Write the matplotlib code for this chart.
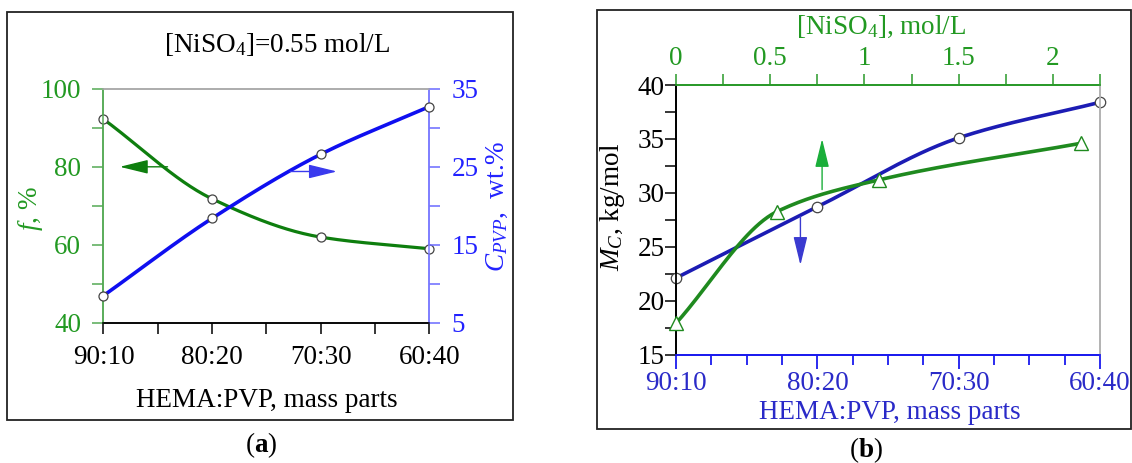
import numpy as np
import matplotlib
matplotlib.use("Agg")
import matplotlib.pyplot as plt
from matplotlib.patches import Rectangle
from matplotlib.ticker import MultipleLocator, FixedLocator

plt.rcParams['font.family'] = ['Liberation Serif', 'DejaVu Serif']
plt.rcParams['mathtext.fontset'] = 'custom'
plt.rcParams['mathtext.rm'] = 'Liberation Serif'
plt.rcParams['mathtext.it'] = 'Liberation Serif:italic'
plt.rcParams['mathtext.bf'] = 'Liberation Serif:bold'
plt.rcParams['font.size'] = 19.5

# --- data ---
ratios = ["90:10", "80:20", "70:30", "60:40"]          # HEMA:PVP, mass parts
f_yield = [92.2, 71.8, 62.0, 59.0]                       # f, %  (panel a)
c_pvp = [8.5, 18.4, 26.6, 32.7]                          # C_PVP, wt.% (panel a)
mc_ratio = [22.1, 28.7, 35.1, 38.4]                      # Mc vs HEMA:PVP (panel b)
niso4 = [0.0, 0.535, 1.077, 2.15]                        # [NiSO4], mol/L (panel b)
mc_niso4 = [17.9, 28.25, 31.2, 34.6]                     # Mc vs [NiSO4] (panel b)

# colours
GREEN_TXT = "#229922"
GREEN_LINE = "#0e7e0e"
GREEN_B = "#1f8a1f"
BLUE_A = "#0f0ff0"
BLUE_TXT_A = "#2222ff"
BLUE_B = "#1c1cb4"
BLUE_TXT_B = "#2a2ac8"


def smooth(x, y, n=200):
    # monotone cubic (hermite) line through the measured points
    x = np.asarray(x, float)
    y = np.asarray(y, float)
    h = np.diff(x)
    d = np.diff(y) / h
    m = np.zeros_like(y)
    for k in range(1, len(x) - 1):
        if d[k - 1] * d[k] > 0:
            w1 = 2 * h[k] + h[k - 1]
            w2 = h[k] + 2 * h[k - 1]
            m[k] = (w1 + w2) / (w1 / d[k - 1] + w2 / d[k])
    m[0] = d[0]
    m[-1] = d[-1]
    xs = np.linspace(x[0], x[-1], n)
    idx = np.clip(np.searchsorted(x, xs) - 1, 0, len(x) - 2)
    t = (xs - x[idx]) / h[idx]
    h00 = 2 * t**3 - 3 * t**2 + 1
    h10 = t**3 - 2 * t**2 + t
    h01 = -2 * t**3 + 3 * t**2
    h11 = t**3 - t**2
    ys = h00 * y[idx] + h10 * h[idx] * m[idx] + h01 * y[idx + 1] + h11 * h[idx] * m[idx + 1]
    return xs, ys


fig = plt.figure(figsize=(11.32, 4.63), dpi=100)

# panel frames
fig.add_artist(Rectangle((0.0062, 0.0929), 0.447, 0.8812, transform=fig.transFigure,
                         fill=False, lw=1.3, ec="#222222"))
fig.add_artist(Rectangle((0.5274, 0.0734), 0.4717, 0.905, transform=fig.transFigure,
                         fill=False, lw=1.3, ec="#222222"))

# ================= panel (a) =================
xa = np.arange(len(ratios))
ax = fig.add_axes([0.0914, 0.3024, 0.2878, 0.506])
ax2 = ax.twinx()

xs, ys = smooth(xa, f_yield)
ax.plot(xs, ys, color=GREEN_LINE, lw=2.3, zorder=3)
ax.plot(xa, f_yield, ls="none", marker="o", ms=6.5, mfc="white", mec="#444444", mew=0.9,
        zorder=4, clip_on=False)
xs, ys = smooth(xa, c_pvp)
ax2.plot(xs, ys, color=BLUE_A, lw=2.6, zorder=3)
ax2.plot(xa, c_pvp, ls="none", marker="o", ms=6.5, mfc="white", mec="#444444", mew=0.9,
         zorder=4, clip_on=False)

ax.set_xlim(0, 3)
ax.set_ylim(40, 100)
ax2.set_ylim(5, 35)
ax.set_xticks(xa)
ax.set_xticklabels(ratios)
ax.xaxis.set_minor_locator(MultipleLocator(0.5))
ax.yaxis.set_major_locator(MultipleLocator(20))
ax.yaxis.set_minor_locator(MultipleLocator(10))
ax2.yaxis.set_major_locator(FixedLocator([5, 15, 25, 35]))
ax2.yaxis.set_minor_locator(FixedLocator([10, 20, 30]))

ax.tick_params(axis="x", which="both", direction="out", length=8, width=1.1, color="black", pad=8)
ax.tick_params(axis="y", which="both", direction="out", length=8, width=1.1, color="#55aa55",
               labelcolor=GREEN_TXT, pad=8)
ax2.tick_params(axis="y", which="both", direction="out", length=8, width=1.1, color="#6a6aff",
                labelcolor=BLUE_TXT_A, pad=8)
for a in (ax, ax2):
    a.spines["left"].set_color("#55aa55")
    a.spines["right"].set_color("#7a7aff")
    a.spines["top"].set_color("#aaaaaa")
    a.spines["bottom"].set_color("black")
    for s in a.spines.values():
        s.set_linewidth(1.1)

ax.annotate("", xy=(0.15, 80), xytext=(0.59, 80),
            arrowprops=dict(arrowstyle="-|>,head_length=0.9,head_width=0.22", color=GREEN_LINE,
                            lw=1.0, shrinkA=0, shrinkB=0))
ax2.annotate("", xy=(2.15, 24.4), xytext=(1.72, 24.4),
             arrowprops=dict(arrowstyle="-|>,head_length=0.9,head_width=0.22", color="#3a3aee",
                             lw=1.0, shrinkA=0, shrinkB=0))

fig.text(0.245, 0.903, r"[NiSO$_4$]=0.55 mol/L", ha="center", va="center")
fig.text(0.236, 0.136, "HEMA:PVP, mass parts", ha="center", va="center")
fig.text(0.027, 0.55, r"$f$, %", ha="center", va="center", rotation=90, color=GREEN_TXT)
fig.text(0.439, 0.555, r"$C_{PVP}$,  wt.%", ha="center", va="center", rotation=90, color=BLUE_TXT_A)
fig.text(0.231, 0.038, r"($\mathbf{a}$)", ha="center", va="center")

# ================= panel (b) =================
xb = np.arange(len(ratios))
bx = fig.add_axes([0.5972, 0.2343, 0.3746, 0.5821])
bt = bx.twiny()

xs, ys = smooth(xb, mc_ratio)
bx.plot(xs, ys, color=BLUE_B, lw=2.6, zorder=3)
bx.plot(xb, mc_ratio, ls="none", marker="o", ms=7.5, mfc="white", mec="#444444", mew=0.9,
        zorder=4, clip_on=False)
xs, ys = smooth(niso4, mc_niso4)
bt.plot(xs, ys, color=GREEN_B, lw=2.6, zorder=3)
bt.plot(niso4, mc_niso4, ls="none", marker="^", ms=10, mfc="white", mec=GREEN_B, mew=1.0,
        zorder=4, clip_on=False)

bx.set_xlim(0, 3)
bt.set_xlim(0, 2.25)
bx.set_ylim(15, 40)
bx.set_xticks(xb)
bx.set_xticklabels(ratios)
bx.xaxis.set_minor_locator(MultipleLocator(0.25))
bx.yaxis.set_major_locator(MultipleLocator(5))
bx.yaxis.set_minor_locator(MultipleLocator(2.5))
bt.xaxis.set_major_locator(FixedLocator([0, 0.5, 1, 1.5, 2]))
bt.xaxis.set_major_formatter(plt.FuncFormatter(lambda v, p: f"{v:g}"))
bt.xaxis.set_minor_locator(MultipleLocator(0.25))

bx.tick_params(axis="x", which="major", direction="out", length=10, width=1.3, color="#1a1aee",
               labelcolor=BLUE_TXT_B, pad=2)
bx.tick_params(axis="x", which="minor", direction="out", length=7, width=1.3, color="#1a1aee")
bx.tick_params(axis="y", which="both", direction="out", length=8, width=1.1, color="black", pad=0)
bt.tick_params(axis="x", which="both", direction="out", length=8, width=1.1, color="#2a9a2a",
               labelcolor=GREEN_TXT, pad=2)
for a in (bx, bt):
    a.spines["left"].set_color("black")
    a.spines["bottom"].set_color("#1a1aee")
    a.spines["top"].set_color("#2a9a2a")
    a.spines["right"].set_color("#b4b4b4")
    for s in a.spines.values():
        s.set_linewidth(1.3)

bt.annotate("", xy=(0.775, 35.0), xytext=(0.775, 30.3),
            arrowprops=dict(arrowstyle="-|>,head_length=0.9,head_width=0.22", color="#1aae3a",
                            lw=1.0, shrinkA=0, shrinkB=0))
bx.annotate("", xy=(0.88, 23.3), xytext=(0.88, 27.8),
            arrowprops=dict(arrowstyle="-|>,head_length=0.9,head_width=0.22", color="#3a3ad0",
                            lw=1.0, shrinkA=0, shrinkB=0))

fig.text(0.778, 0.942, r"[NiSO$_4$], mol/L", ha="center", va="center", color=GREEN_TXT)
fig.text(0.786, 0.109, "HEMA:PVP, mass parts", ha="center", va="center", color=BLUE_TXT_B)
fig.text(0.541, 0.552, r"$M_C$, kg/mol", ha="center", va="center", rotation=90)
fig.text(0.765, 0.028, r"($\mathbf{b}$)", ha="center", va="center")

fig.savefig("out.png", dpi=100)
